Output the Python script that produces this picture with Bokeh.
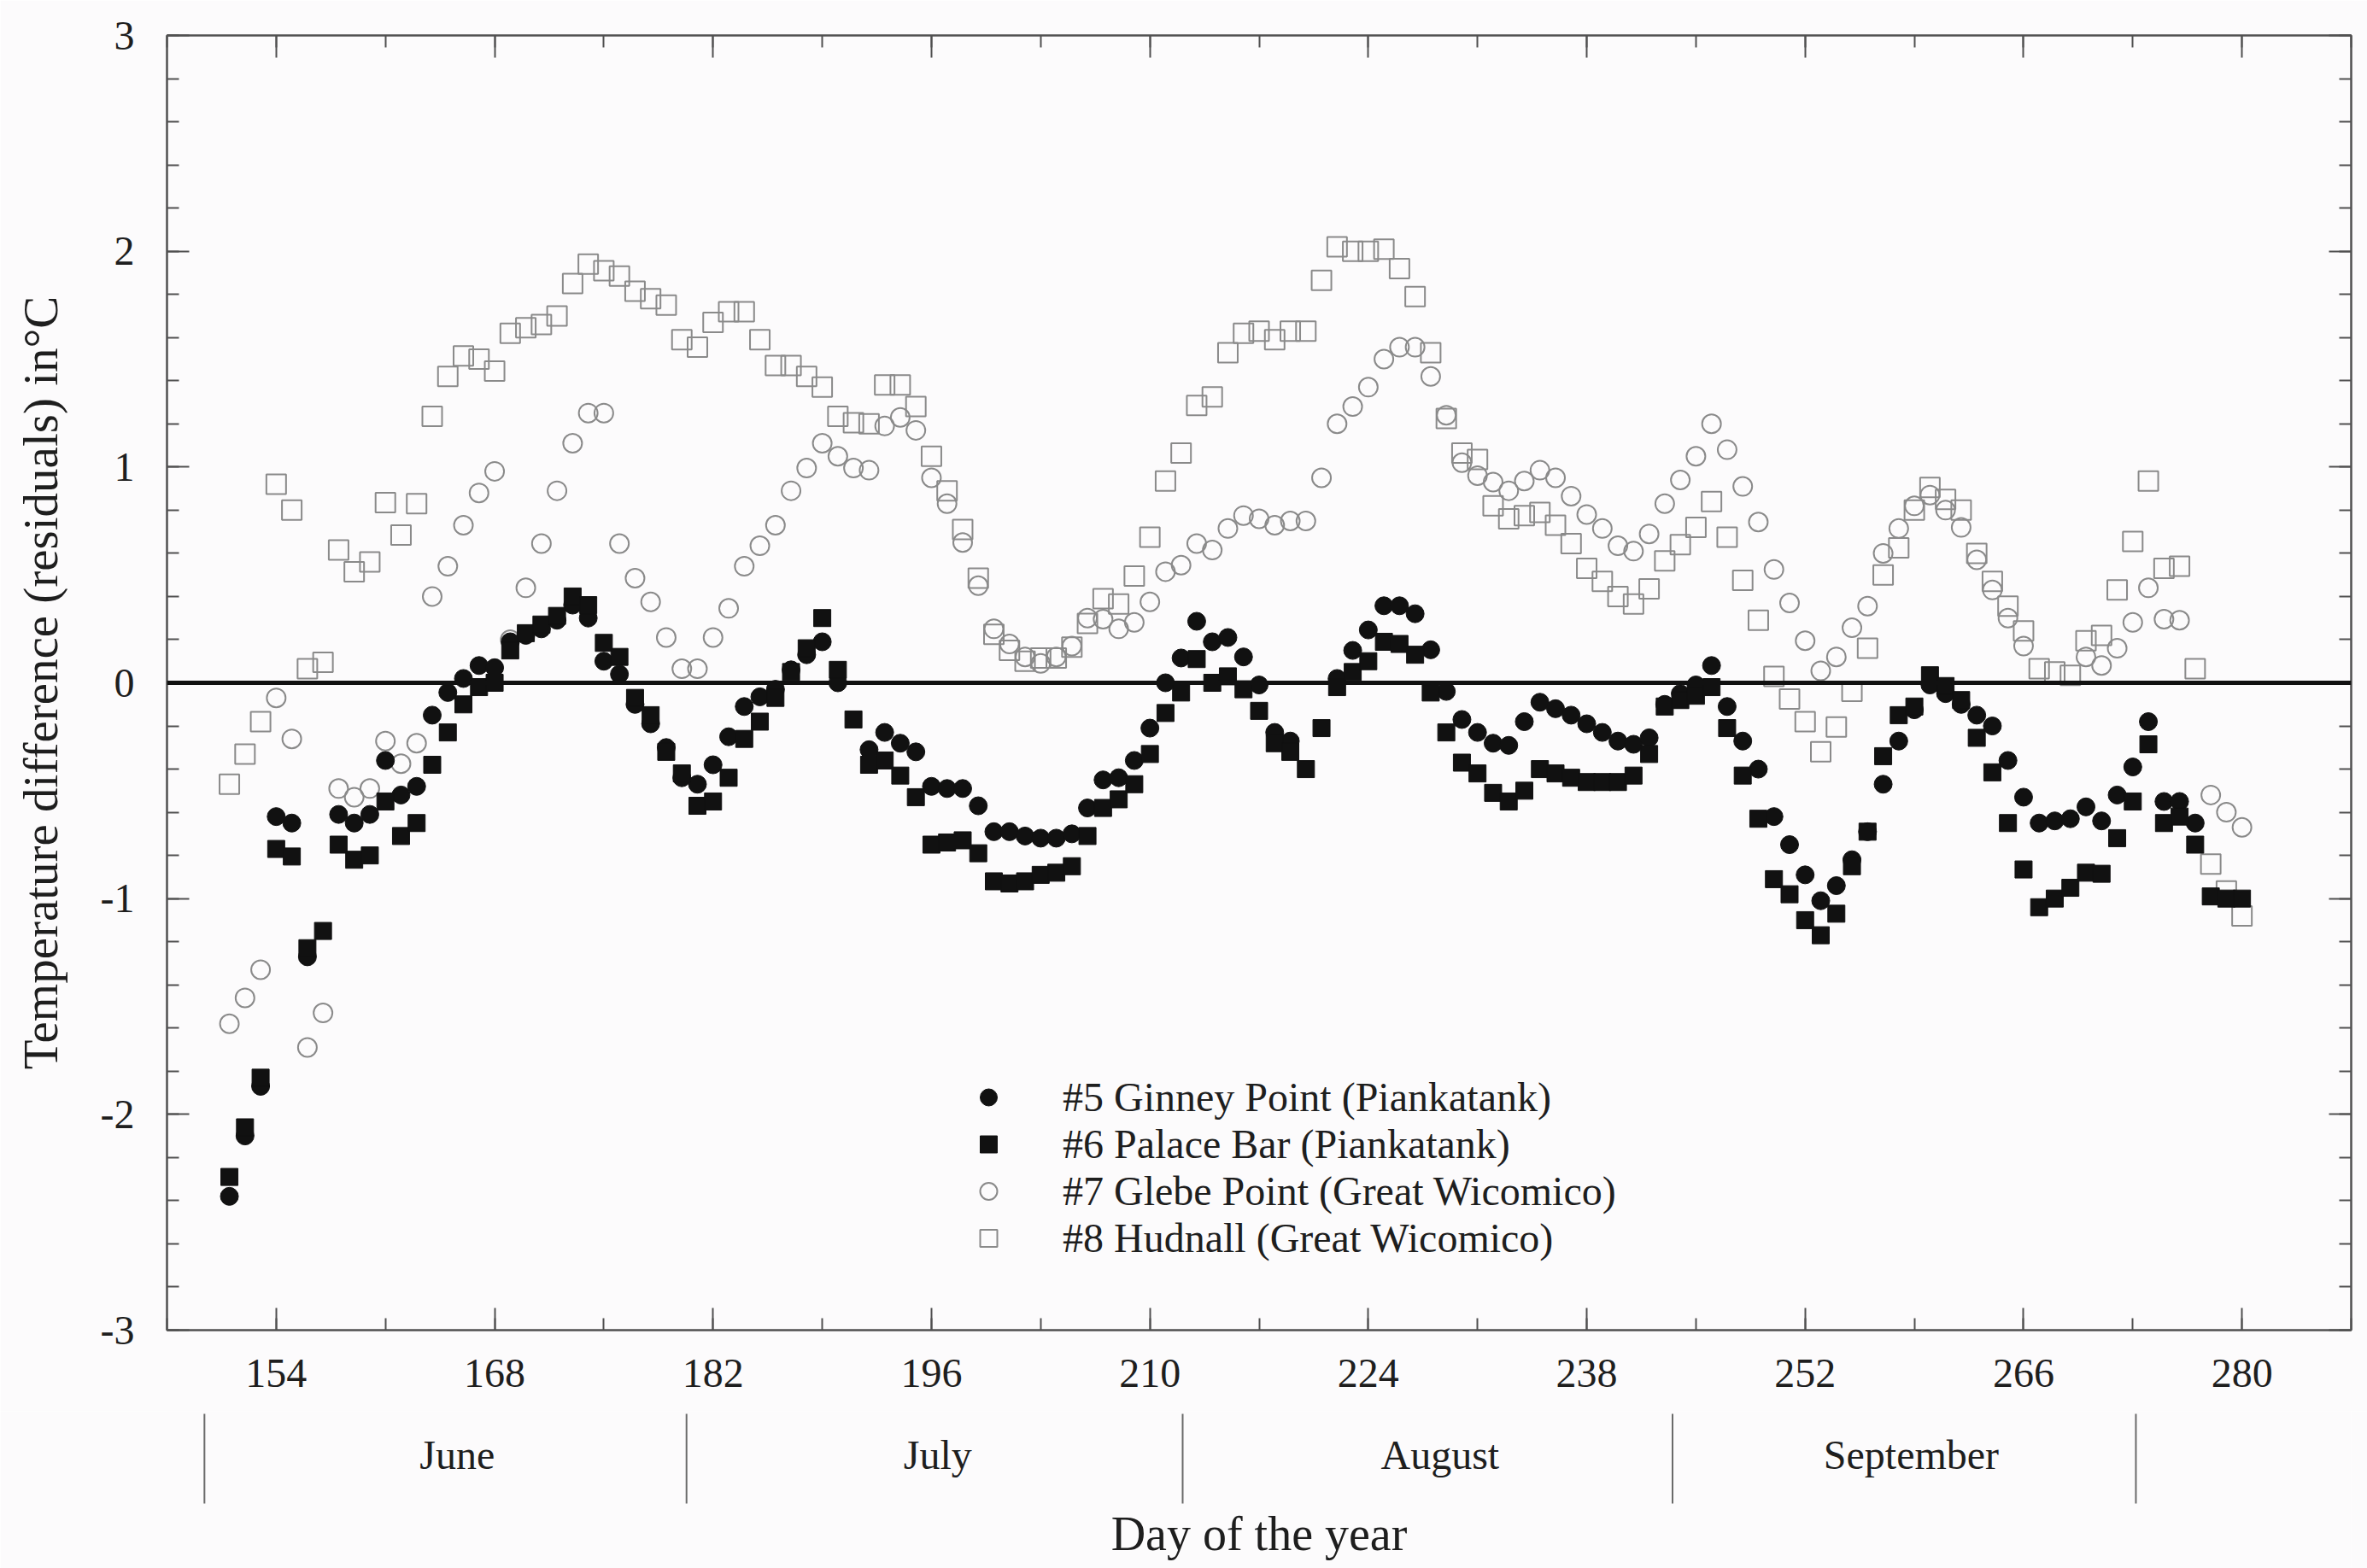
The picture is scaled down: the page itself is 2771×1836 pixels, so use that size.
from bokeh.plotting import figure
from bokeh.models import (Range1d, LinearAxis, SingleIntervalTicker, Span, Legend, LegendItem,
                          PrintfTickFormatter)
from bokeh.layouts import column
from bokeh.embed import file_html
from bokeh.resources import INLINE
from bokeh.core.properties import value

# ---------------- data ----------------
ginney_day = [151, 152, 153, 154, 155, 156, 158, 159, 160, 161, 162, 163, 164, 165, 166, 167, 168, 169, 170,
              171, 172, 173, 174, 175, 176, 177, 178, 179, 180, 181, 182, 183, 184, 185, 186, 187, 188, 189,
              190, 192, 193, 194, 195, 196, 197, 198, 199, 200, 201, 202, 203, 204, 205, 206, 207, 208, 209,
              210, 211, 212, 213, 214, 215, 216, 217, 218, 219, 222, 223, 224, 225, 226, 227, 228, 229, 230,
              231, 232, 233, 234, 235, 236, 237, 238, 239, 240, 241, 242, 243, 244, 245, 246, 247, 248, 249,
              250, 251, 252, 253, 254, 255, 256, 257, 258, 259, 260, 261, 262, 263, 264, 265, 266, 267, 268,
              269, 270, 271, 272, 273, 274, 275, 276, 277]
ginney_val = [-2.38, -2.10, -1.87, -0.62, -0.65, -1.27, -0.61, -0.65, -0.61, -0.36, -0.52, -0.48, -0.15,
              -0.045, 0.02, 0.08, 0.07, 0.19, 0.22, 0.25, 0.29, 0.36, 0.30, 0.10, 0.04, -0.10, -0.19, -0.30,
              -0.44, -0.47, -0.38, -0.25, -0.11, -0.065, -0.03, 0.06, 0.13, 0.19, 0.00, -0.31, -0.23, -0.28,
              -0.32, -0.48, -0.49, -0.49, -0.57, -0.69, -0.69, -0.71, -0.72, -0.72, -0.70, -0.58, -0.45,
              -0.44, -0.36, -0.21, 0.00, 0.115, 0.285, 0.19, 0.21, 0.12, -0.01, -0.23, -0.27, 0.02, 0.15,
              0.245, 0.357, 0.357, 0.32, 0.153, -0.04, -0.17, -0.23, -0.28, -0.29, -0.18, -0.09, -0.12,
              -0.15, -0.19, -0.23, -0.27, -0.285, -0.255, -0.10, -0.05, -0.01, 0.08, -0.11, -0.27, -0.40,
              -0.62, -0.75, -0.89, -1.01, -0.94, -0.82, -0.69, -0.47, -0.27, -0.125, -0.01, -0.05, -0.10,
              -0.15, -0.20, -0.36, -0.53, -0.65, -0.64, -0.63, -0.575, -0.64, -0.52, -0.39, -0.18, -0.55,
              -0.55, -0.65]

palace_day = list(range(151, 281))
palace_val = [-2.29, -2.06, -1.83, -0.77, -0.805, -1.23, -1.15, -0.75, -0.82, -0.80,      # 151-160
              -0.55, -0.71, -0.65, -0.38, -0.23, -0.10, -0.02, 0.00, 0.15, 0.23,          # 161-170
              0.27, 0.31, 0.40, 0.36, 0.185, 0.12, -0.07, -0.15, -0.32, -0.42,            # 171-180
              -0.57, -0.55, -0.44, -0.26, -0.18, -0.07, 0.05, 0.16, 0.30, 0.06,           # 181-190
              -0.17, -0.38, -0.36, -0.43, -0.53, -0.75, -0.74, -0.73, -0.79, -0.92,       # 191-200
              -0.93, -0.92, -0.89, -0.88, -0.85, -0.71, -0.58, -0.54, -0.47, -0.33,       # 201-210
              -0.14, -0.045, 0.11, 0.00, 0.03, -0.03, -0.13, -0.28, -0.32, -0.40,         # 211-220
              -0.21, -0.02, 0.05, 0.10, 0.19, 0.18, 0.13, -0.045, -0.23, -0.37,           # 221-230
              -0.42, -0.51, -0.55, -0.50, -0.40, -0.42, -0.44, -0.46, -0.46, -0.46,       # 231-240
              -0.43, -0.33, -0.11, -0.08, -0.06, -0.02, -0.21, -0.43, -0.63, -0.91,       # 241-250
              -0.98, -1.10, -1.17, -1.07, -0.85, -0.69, -0.34, -0.15, -0.11, 0.035,       # 251-260
              -0.015, -0.08, -0.255, -0.415, -0.65, -0.865, -1.04, -1.00, -0.95, -0.88,   # 261-270
              -0.885, -0.72, -0.55, -0.285, -0.65, -0.62, -0.75, -0.99, -1.00, -1.00]     # 271-280

glebe_day = list(range(151, 267)) + [270, 271, 272, 273, 274, 275, 276, 278, 279, 280]
glebe_val = [-1.58, -1.46, -1.33, -0.07, -0.26, -1.69, -1.53, -0.49, -0.53, -0.49,         # 151-160
             -0.27, -0.375, -0.28, 0.40, 0.54, 0.73, 0.88, 0.98, 0.20, 0.44,               # 161-170
             0.645, 0.89, 1.11, 1.25, 1.25, 0.645, 0.485, 0.375, 0.21, 0.065,              # 171-180
             0.065, 0.21, 0.345, 0.54, 0.635, 0.73, 0.89, 0.995, 1.11, 1.05,               # 181-190
             0.995, 0.985, 1.19, 1.23, 1.17, 0.95, 0.83, 0.65, 0.45, 0.25,                 # 191-200
             0.18, 0.12, 0.09, 0.12, 0.17, 0.30, 0.295, 0.25, 0.28, 0.375,                 # 201-210
             0.515, 0.545, 0.645, 0.615, 0.715, 0.775, 0.76, 0.73, 0.75, 0.75,             # 211-220
             0.95, 1.20, 1.28, 1.37, 1.50, 1.555, 1.555, 1.42, 1.24, 1.02,                 # 221-230
             0.96, 0.93, 0.89, 0.935, 0.985, 0.95, 0.865, 0.78, 0.715, 0.635,              # 231-240
             0.61, 0.69, 0.83, 0.94, 1.05, 1.20, 1.08, 0.91, 0.745, 0.525,                 # 241-250
             0.37, 0.195, 0.055, 0.12, 0.255, 0.355, 0.60, 0.715, 0.82, 0.87,              # 251-260
             0.80, 0.72, 0.57, 0.43, 0.30, 0.17,                                           # 261-266
             0.12, 0.08, 0.16, 0.28, 0.44, 0.295, 0.29, -0.52, -0.60, -0.67]               # 270-280

hudnall_day = list(range(151, 281))
hudnall_val = [-0.47, -0.33, -0.18, 0.92, 0.80, 0.065, 0.095, 0.615, 0.515, 0.56,          # 151-160
               0.835, 0.685, 0.83, 1.235, 1.42, 1.515, 1.50, 1.445, 1.62, 1.645,           # 161-170
               1.66, 1.70, 1.85, 1.94, 1.91, 1.885, 1.815, 1.78, 1.75, 1.59,               # 171-180
               1.555, 1.67, 1.72, 1.72, 1.59, 1.47, 1.47, 1.42, 1.37, 1.235,               # 181-190
               1.205, 1.20, 1.38, 1.38, 1.28, 1.05, 0.89, 0.71, 0.485, 0.225,              # 191-200
               0.15, 0.10, 0.115, 0.115, 0.165, 0.275, 0.39, 0.365, 0.495, 0.675,          # 201-210
               0.935, 1.065, 1.285, 1.325, 1.53, 1.62, 1.63, 1.59, 1.63, 1.63,             # 211-220
               1.865, 2.02, 2.00, 2.00, 2.01, 1.92, 1.79, 1.53, 1.225, 1.065,              # 221-230
               1.035, 0.82, 0.76, 0.775, 0.79, 0.73, 0.645, 0.53, 0.47, 0.40,              # 231-240
               0.365, 0.435, 0.565, 0.64, 0.72, 0.84, 0.675, 0.475, 0.29, 0.03,            # 241-250
               -0.075, -0.18, -0.32, -0.205, -0.04, 0.16, 0.50, 0.625, 0.80, 0.905,        # 251-260
               0.85, 0.80, 0.60, 0.47, 0.355, 0.24, 0.065, 0.05, 0.035, 0.195,             # 261-270
               0.22, 0.43, 0.655, 0.935, 0.53, 0.54, 0.065, -0.84, -0.965, -1.08]          # 271-280

series_labels = ["#5 Ginney Point (Piankatank)", "#6 Palace Bar (Piankatank)",
                 "#7 Glebe Point (Great Wicomico)", "#8 Hudnall (Great Wicomico)"]

month_names = ["June", "July", "August", "September"]
month_centers = [165.6, 196.4, 228.6, 258.8]
month_bounds = [149.4, 180.3, 212.1, 243.5, 273.2]

x_start, x_end = 147, 287
y_start, y_end = -3, 3
x_tick_step = 14
y_tick_step = 1

# ---------------- styles ----------------
FONT = "Liberation Serif"
BG = "#fcfbfc"
TXT = "#1e1e1e"
AX = "#505050"
DARK = "#111111"
GREY = "#8a8a8a"

W = 2771
MAIN_H = 1652
MONTH_H = 1836 - MAIN_H
L, R, T, B = 195, 19, 41, 95

x_range = Range1d(x_start, x_end)

fig = figure(width=W, height=MAIN_H, x_range=x_range, y_range=Range1d(y_start, y_end),
             output_backend="svg", toolbar_location=None,
             min_border_left=L, min_border_right=R, min_border_top=T, min_border_bottom=B,
             background_fill_color=BG, border_fill_color=BG)
fig.grid.visible = False
fig.outline_line_color = AX
fig.outline_line_width = 2


def style_axis(ax, show_labels):
    ax.axis_line_color = AX
    ax.axis_line_width = 2
    ax.major_tick_line_color = AX
    ax.minor_tick_line_color = AX
    ax.major_tick_line_width = 2
    ax.minor_tick_line_width = 2
    ax.major_tick_in = 26
    ax.major_tick_out = 0
    ax.minor_tick_in = 14
    ax.minor_tick_out = 0
    if show_labels:
        ax.major_label_text_font = FONT
        ax.major_label_text_font_size = "48px"
        ax.major_label_text_color = TXT
    else:
        ax.major_label_text_font_size = "1px"
        ax.major_label_text_color = None
        ax.major_label_standoff = 0


xt = SingleIntervalTicker(interval=x_tick_step, num_minor_ticks=2)
yt = SingleIntervalTicker(interval=y_tick_step, num_minor_ticks=5)

fig.xaxis.ticker = xt
fig.yaxis.ticker = yt
fig.yaxis.formatter = PrintfTickFormatter(format="%d")
style_axis(fig.xaxis[0], True)
style_axis(fig.yaxis[0], True)
fig.xaxis.major_label_standoff = 34
fig.yaxis.major_label_standoff = 38
fig.yaxis.axis_label = "Temperature difference (residuals) in°C"
fig.yaxis.axis_label_text_font = FONT
fig.yaxis.axis_label_text_font_size = "57px"
fig.yaxis.axis_label_text_font_style = "normal"
fig.yaxis.axis_label_text_color = TXT
fig.yaxis.axis_label_standoff = 36

top_ax = LinearAxis(ticker=xt)
style_axis(top_ax, False)
fig.add_layout(top_ax, "above")
right_ax = LinearAxis(ticker=yt)
style_axis(right_ax, False)
fig.add_layout(right_ax, "right")

fig.add_layout(Span(location=0, dimension="width", line_color=DARK, line_width=5))

r7 = fig.scatter(glebe_day, glebe_val, marker="circle", size=22, fill_color=None,
                 line_color=GREY, line_width=2)
r8 = fig.scatter(hudnall_day, hudnall_val, marker="square", size=23, fill_color=None,
                 line_color=GREY, line_width=2)
r5 = fig.scatter(ginney_day, ginney_val, marker="circle", size=21, fill_color=DARK,
                 line_color=DARK, line_width=1)
r6 = fig.scatter(palace_day, palace_val, marker="square", size=20, fill_color=DARK,
                 line_color=DARK, line_width=1)

legend = Legend(items=[LegendItem(label=lab, renderers=[r]) for lab, r in
                       zip(series_labels, [r5, r6, r7, r8])],
                location=(937, 80), orientation="vertical",
                background_fill_alpha=0, border_line_color=None,
                label_text_font=FONT, label_text_font_size="48px", label_text_color=TXT,
                glyph_width=50, glyph_height=55, label_height=55, spacing=0,
                padding=0, margin=0, label_standoff=62)
fig.add_layout(legend)

# ---------------- month band below ----------------
mfig = figure(width=W, height=MONTH_H, x_range=x_range, y_range=Range1d(MONTH_H, 0),
              output_backend="svg", toolbar_location=None, x_axis_type=None, y_axis_type=None,
              min_border_left=L, min_border_right=R, min_border_top=0, min_border_bottom=0,
              background_fill_color=BG, border_fill_color=BG)
mfig.grid.visible = False
mfig.outline_line_color = None

SEP_TOP, SEP_BOT, MONTH_Y, TITLE_Y = 3, 108, 51, 143
mfig.segment(x0=month_bounds, y0=[SEP_TOP] * len(month_bounds),
             x1=month_bounds, y1=[SEP_BOT] * len(month_bounds),
             line_color="#6a6a6a", line_width=2)
mfig.text(x=month_centers, y=[MONTH_Y] * len(month_centers), text=month_names,
          text_align="center", text_baseline="middle", text_font=value(FONT),
          text_font_size="48px", text_color=TXT)
mfig.text(x=[(x_start + x_end) / 2], y=[TITLE_Y], text=["Day of the year"],
          text_align="center", text_baseline="middle", text_font=value(FONT),
          text_font_size="56px", text_color=TXT)

p = column(fig, mfig, spacing=0)
open("out.html", "w").write(file_html(p, INLINE))
